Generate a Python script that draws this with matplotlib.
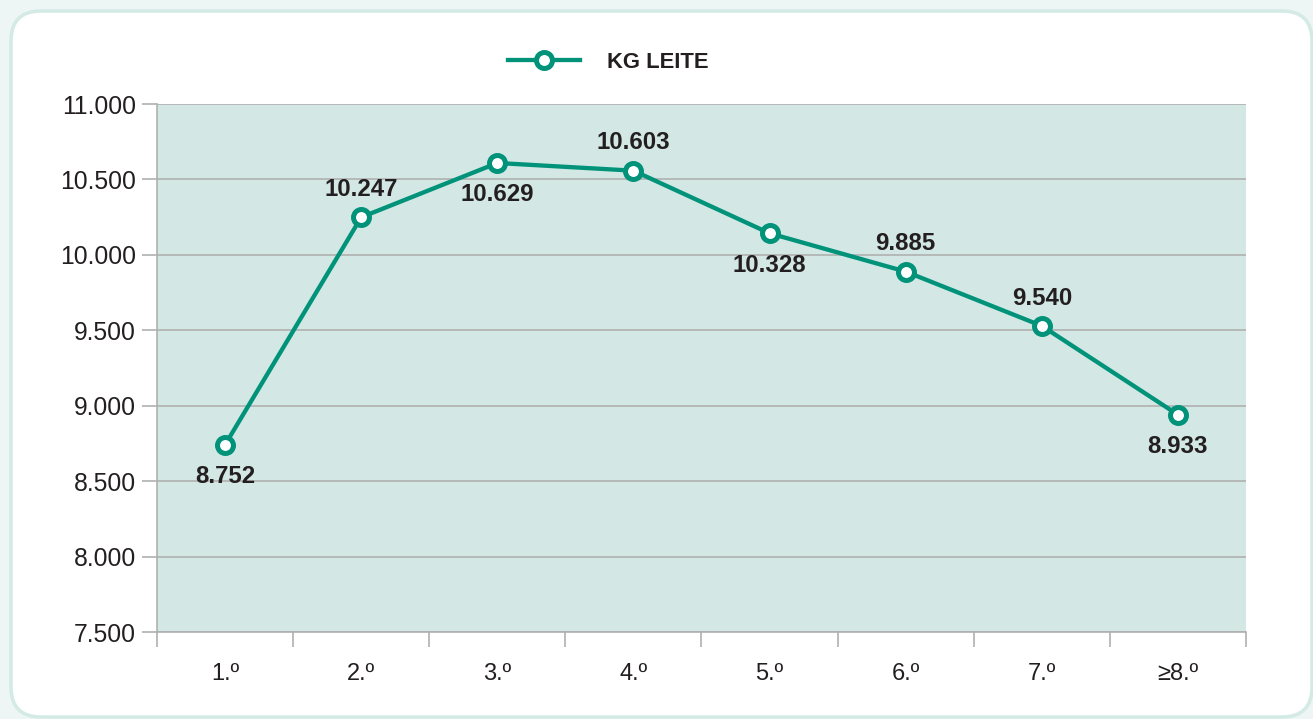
import matplotlib.pyplot as plt
from matplotlib.patches import FancyBboxPatch
from matplotlib.lines import Line2D

# data (points follow the drawn positions, labels are the printed values)
categories = ['1.º', '2.º', '3.º', '4.º', '5.º', '6.º', '7.º', '≥8.º']
kg_leite = [8741, 10249, 10609, 10558, 10143, 9889, 9529, 8940]
value_labels = ['8.752', '10.247', '10.629', '10.603', '10.328', '9.885', '9.540', '8.933']
label_above = [False, True, False, True, False, True, True, False]
y_ticks = [7500, 8000, 8500, 9000, 9500, 10000, 10500, 11000]

teal = '#00937a'
grey = '#b0b0b0'
text_col = '#231f20'

plt.rcParams['font.family'] = ['Liberation Sans', 'DejaVu Sans']

fig = plt.figure(figsize=(13.13, 7.19), dpi=100, facecolor='#edf6f4')

# rounded white card behind the chart
bg = fig.add_axes([0, 0, 1, 1], zorder=-5)
bg.set_xlim(0, 1313)
bg.set_ylim(719, 0)
bg.axis('off')
bg.add_patch(FancyBboxPatch((11, 11), 1301, 706, boxstyle='round,pad=0,rounding_size=30',
                            facecolor='white', edgecolor='#d3eae5', linewidth=2.5))

ax = fig.add_axes([157 / 1313, 1 - 632 / 719, 1089 / 1313, 528 / 719])
ax.set_facecolor('#d3e8e4')

x = list(range(len(categories)))
ax.plot(x, kg_leite, color=teal, linewidth=3.1, marker='o', markersize=11.5,
        markerfacecolor='white', markeredgecolor=teal, markeredgewidth=3.6, zorder=5,
        solid_capstyle='round')

for i, (v, lab) in enumerate(zip(kg_leite, value_labels)):
    dy = 20 if label_above[i] else -23
    ax.annotate(lab, (i, v), xytext=(0, dy), textcoords='offset points',
                ha='center', va='center', fontsize=17.3, fontweight='bold', color=text_col)

ax.set_xlim(-0.5, len(categories) - 0.5)
ax.set_ylim(7500, 11000)
ax.set_yticks(y_ticks)
ax.set_yticklabels([f'{t:,}'.replace(',', '.') for t in y_ticks])
ax.set_xticks([i - 0.5 for i in range(len(categories) + 1)])
ax.set_xticklabels([])
ax.set_xticks(x, minor=True)
ax.set_xticklabels(categories, minor=True)
ax.tick_params(axis='x', which='minor', length=0, pad=22, labelsize=17, labelcolor=text_col)
ax.tick_params(axis='x', which='major', length=11, color=grey, width=1.2)
ax.tick_params(axis='y', length=11, color=grey, width=1.2, labelsize=17.8, labelcolor=text_col, pad=4)
ax.grid(axis='y', color=grey, linewidth=1.2)
ax.set_axisbelow(True)
for s in ['top', 'right']:
    ax.spines[s].set_visible(False)
for s in ['left', 'bottom']:
    ax.spines[s].set_color(grey)
    ax.spines[s].set_linewidth(1.2)

# legend drawn above the plot
handle = Line2D([], [], color=teal, linewidth=3.1, marker='o', markersize=11.5,
                markerfacecolor='white', markeredgecolor=teal, markeredgewidth=3.6)
leg = fig.legend([handle], ['KG LEITE'], loc='center', bbox_to_anchor=(608 / 1313, 1 - 62 / 719),
                 frameon=False, handlelength=3.3, handletextpad=1.2,
                 prop={'weight': 'bold', 'size': 15.8})
for t in leg.get_texts():
    t.set_color(text_col)

fig.savefig('out.png', dpi=100, facecolor=fig.get_facecolor())
